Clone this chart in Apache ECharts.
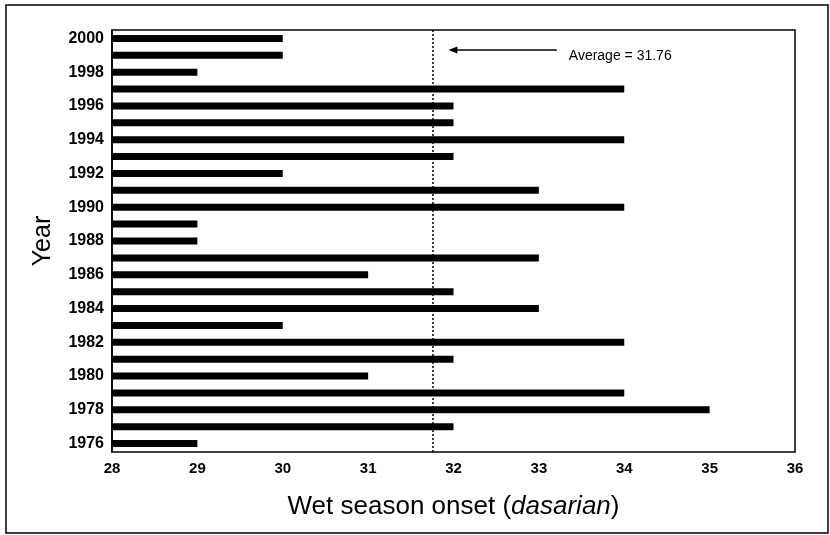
<!DOCTYPE html>
<html>
<head>
<meta charset="utf-8">
<script src="https://cdn.jsdelivr.net/npm/echarts@6/dist/echarts.min.js"></script>
<style>
  html, body { margin: 0; padding: 0; background: #fff; }
  #main { width: 830px; height: 535px; }
</style>
</head>
<body>
<div id="main"></div>
<script>
// years, bottom to top
var years = ['1976', '1977', '1978', '1979', '1980', '1981', '1982', '1983', '1984', '1985',
  '1986', '1987', '1988', '1989', '1990', '1991', '1992', '1993', '1994', '1995',
  '1996', '1997', '1998', '1999', '2000'];
// wet season onset (dasarian)
var onset = [29, 32, 35, 34, 31, 32, 34, 30, 33, 32,
  31, 33, 29, 29, 34, 33, 30, 32, 34, 32,
  32, 34, 29, 30, 30];
var average = 31.76;
var xMin = 28;
var xMax = 36;

var font = 'Arial, "Liberation Sans", sans-serif';
var myChart = echarts.init(document.getElementById('main'));

var frame = {
  type: 'rect',
  shape: { x: 6, y: 5, width: 822, height: 528 },
  style: { fill: 'none', stroke: '#000', lineWidth: 1.5 },
  silent: true
};

var option = {
  backgroundColor: '#fff',
  animation: false,
  grid: {
    left: 112,
    top: 30,
    right: 35,
    bottom: 83,
    show: true,
    borderColor: '#000',
    borderWidth: 1.5
  },
  xAxis: {
    type: 'value',
    min: xMin,
    max: xMax,
    interval: 1,
    name: '{n|Wet season onset (}{i|dasarian}{n|)}',
    nameLocation: 'middle',
    nameGap: 42,
    nameTextStyle: {
      rich: {
        n: { fontFamily: font, fontSize: 26, color: '#000' },
        i: { fontFamily: font, fontSize: 26, color: '#000', fontStyle: 'italic' }
      }
    },
    axisLine: { lineStyle: { color: '#000', width: 1.5 } },
    axisTick: { inside: true, length: 3, lineStyle: { color: '#000' } },
    axisLabel: { color: '#000', fontFamily: font, fontWeight: 'bold', fontSize: 15, margin: 9 },
    splitLine: { show: false }
  },
  yAxis: {
    type: 'category',
    data: years,
    name: 'Year',
    nameLocation: 'middle',
    nameGap: 56,
    nameTextStyle: { fontFamily: font, fontSize: 25, color: '#000' },
    axisLine: { lineStyle: { color: '#000', width: 1.5 } },
    axisTick: { inside: true, length: 4, lineStyle: { color: '#000', width: 1.5 } },
    axisLabel: { interval: 1, color: '#000', fontFamily: font, fontWeight: 'bold', fontSize: 16, margin: 8 }
  },
  series: [{
    type: 'bar',
    data: onset,
    barWidth: 7,
    itemStyle: { color: '#000' },
    markLine: {
      silent: true,
      symbol: 'none',
      label: { show: false },
      lineStyle: { color: '#000', type: [2, 2], width: 1.5 },
      data: [{ xAxis: average }]
    }
  }],
  graphic: [frame]
};
myChart.setOption(option);

// arrow annotation pointing at the average line
var p0 = myChart.convertToPixel({ gridIndex: 0 }, [average, '2000']);
var p1 = myChart.convertToPixel({ gridIndex: 0 }, [average, '1999']);
var ay = (p0[1] + p1[1]) / 2 + 3;
var xs = myChart.convertToPixel({ gridIndex: 0 }, [average + 0.18, '2000'])[0];
var xe = myChart.convertToPixel({ gridIndex: 0 }, [average + 1.45, '2000'])[0];
myChart.setOption({
  graphic: [frame, {
    type: 'line',
    shape: { x1: xs + 6, y1: ay, x2: xe, y2: ay },
    style: { stroke: '#000', lineWidth: 1.5 }
  }, {
    type: 'polygon',
    shape: { points: [[xs, ay], [xs + 9, ay - 3.5], [xs + 9, ay + 3.5]] },
    style: { fill: '#000' }
  }, {
    type: 'text',
    x: xe + 12,
    y: ay + 6,
    style: {
      text: 'Average = 31.76',
      fontFamily: font,
      fontSize: 14,
      fill: '#000',
      verticalAlign: 'middle'
    }
  }]
});
</script>
</body>
</html>
